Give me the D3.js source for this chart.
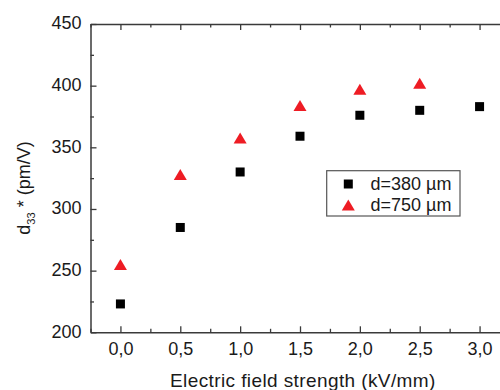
<!DOCTYPE html>
<html>
<head>
<meta charset="utf-8">
<script src="https://cdn.jsdelivr.net/npm/d3@7/dist/d3.min.js"></script>
<style>
  html, body { margin: 0; padding: 0; background: #fff; }
  svg { display: block; }
  text { font-family: "Liberation Sans", Arial, sans-serif; fill: #1a1a1a; }
</style>
</head>
<body>
<svg id="chart" width="500" height="390"></svg>
<script>
// ---- data ----
const fieldStrength = [0.0, 0.5, 1.0, 1.5, 2.0, 2.5, 3.0];
const d380 = [223, 285, 330, 359, 376, 380, 383];
const fieldStrength750 = [0.0, 0.5, 1.0, 1.5, 2.0, 2.5];
const d750 = [255, 328, 357.5, 384, 397, 402];
const xTickValues = [0, 0.5, 1.0, 1.5, 2.0, 2.5, 3.0];
const xTickLabels = ["0,0", "0,5", "1,0", "1,5", "2,0", "2,5", "3,0"];
const yTickValues = [200, 250, 300, 350, 400, 450];
const seriesNames = ["d=380 µm", "d=750 µm"];
const xTitle = "Electric field strength (kV/mm)";

// ---- layout ----
const svg = d3.select("#chart");
const mLeft = 90.5, mRight = 509.5, mTop = 24, mBottom = 332.3;
const x = d3.scaleLinear().domain([-0.25, 3.25]).range([mLeft, mRight]);
const y = d3.scaleLinear().domain([200, 450]).range([mBottom, mTop]);
const axisColor = "#3a3a3a";

const xMinor = d3.range(-0.25, 3.26, 0.25).filter(v => Math.abs(v * 2 - Math.round(v * 2)) > 1e-6);
const yMinor = d3.range(225, 450, 50);

function styleAxis(g) {
  g.select(".domain").attr("stroke", axisColor).attr("stroke-width", 1.5);
  g.selectAll(".tick line").attr("stroke", axisColor).attr("stroke-width", 1.3);
  g.selectAll(".tick text").style("font-size", "18px").attr("fill", "#1a1a1a");
}
function minorStyle(g) {
  g.select(".domain").remove();
  g.selectAll("line").attr("stroke", axisColor).attr("stroke-width", 1.3);
}

// bottom axis
const gB = svg.append("g").attr("transform", `translate(0,${mBottom})`)
  .call(d3.axisBottom(x).tickValues(xTickValues).tickSize(-6).tickSizeOuter(0)
    .tickFormat((d, i) => xTickLabels[i]));
styleAxis(gB);
gB.selectAll(".tick text").attr("y", 23).attr("dy", 0);
svg.append("g").attr("transform", `translate(0,${mBottom})`)
  .call(d3.axisBottom(x).tickValues(xMinor).tickSize(-3.5).tickSizeOuter(0).tickFormat(""))
  .call(minorStyle);

// top axis
const gT = svg.append("g").attr("transform", `translate(0,${mTop})`)
  .call(d3.axisTop(x).tickValues(xTickValues).tickSize(-6).tickSizeOuter(0).tickFormat(""));
styleAxis(gT);
svg.append("g").attr("transform", `translate(0,${mTop})`)
  .call(d3.axisTop(x).tickValues(xMinor).tickSize(-3.5).tickSizeOuter(0).tickFormat(""))
  .call(minorStyle);

// left axis
const gL = svg.append("g").attr("transform", `translate(${mLeft},0)`)
  .call(d3.axisLeft(y).tickValues(yTickValues).tickSize(-6).tickSizeOuter(0));
styleAxis(gL);
gL.selectAll(".tick text").attr("x", -9).attr("dy", "0.27em");
svg.append("g").attr("transform", `translate(${mLeft},0)`)
  .call(d3.axisLeft(y).tickValues(yMinor).tickSize(-3.5).tickSizeOuter(0).tickFormat(""))
  .call(minorStyle);

// right axis
const gR = svg.append("g").attr("transform", `translate(${mRight},0)`)
  .call(d3.axisRight(y).tickValues(yTickValues).tickSize(-6).tickSizeOuter(0).tickFormat(""));
styleAxis(gR);

// ---- points ----
const sq = 9;
svg.append("g").selectAll("rect").data(fieldStrength)
  .join("rect")
  .attr("x", (d) => x(d) - sq / 2)
  .attr("y", (d, i) => y(d380[i]) - sq / 2)
  .attr("width", sq).attr("height", sq)
  .attr("fill", "#000");

const triW = 13, triH = 11;
const triPath = `M0,${-triH / 2}L${triW / 2},${triH / 2}L${-triW / 2},${triH / 2}Z`;
svg.append("g").selectAll("path").data(fieldStrength750)
  .join("path")
  .attr("transform", (d, i) => `translate(${x(d)},${y(d750[i])})`)
  .attr("d", triPath)
  .attr("fill", "#ee1c24");

// ---- legend ----
const lg = svg.append("g");
lg.append("rect").attr("x", 326.7).attr("y", 170.7).attr("width", 133.3).attr("height", 45.3)
  .attr("fill", "#fff").attr("stroke", "#555").attr("stroke-width", 1.2);
lg.append("rect").attr("x", 348.3 - sq / 2).attr("y", 184 - sq / 2).attr("width", sq).attr("height", sq).attr("fill", "#000");
lg.append("path").attr("transform", "translate(348.3,205)").attr("d", triPath).attr("fill", "#ee1c24");
lg.append("text").attr("x", 370.5).attr("y", 190).style("font-size", "18px").text(seriesNames[0]);
lg.append("text").attr("x", 370.5).attr("y", 210.7).style("font-size", "18px").text(seriesNames[1]);

// ---- titles ----
svg.append("text").attr("x", 170).attr("y", 387).style("font-size", "19px")
  .style("letter-spacing", "0.4px").text(xTitle);

const yt = svg.append("text")
  .attr("transform", "translate(30,188) rotate(-90)")
  .attr("text-anchor", "middle")
  .style("font-size", "18px");
yt.append("tspan").text("d");
yt.append("tspan").attr("dy", 5).style("font-size", "11px").text("33");
yt.append("tspan").attr("dy", -5).text(" * (pm/V)");
</script>
</body>
</html>
